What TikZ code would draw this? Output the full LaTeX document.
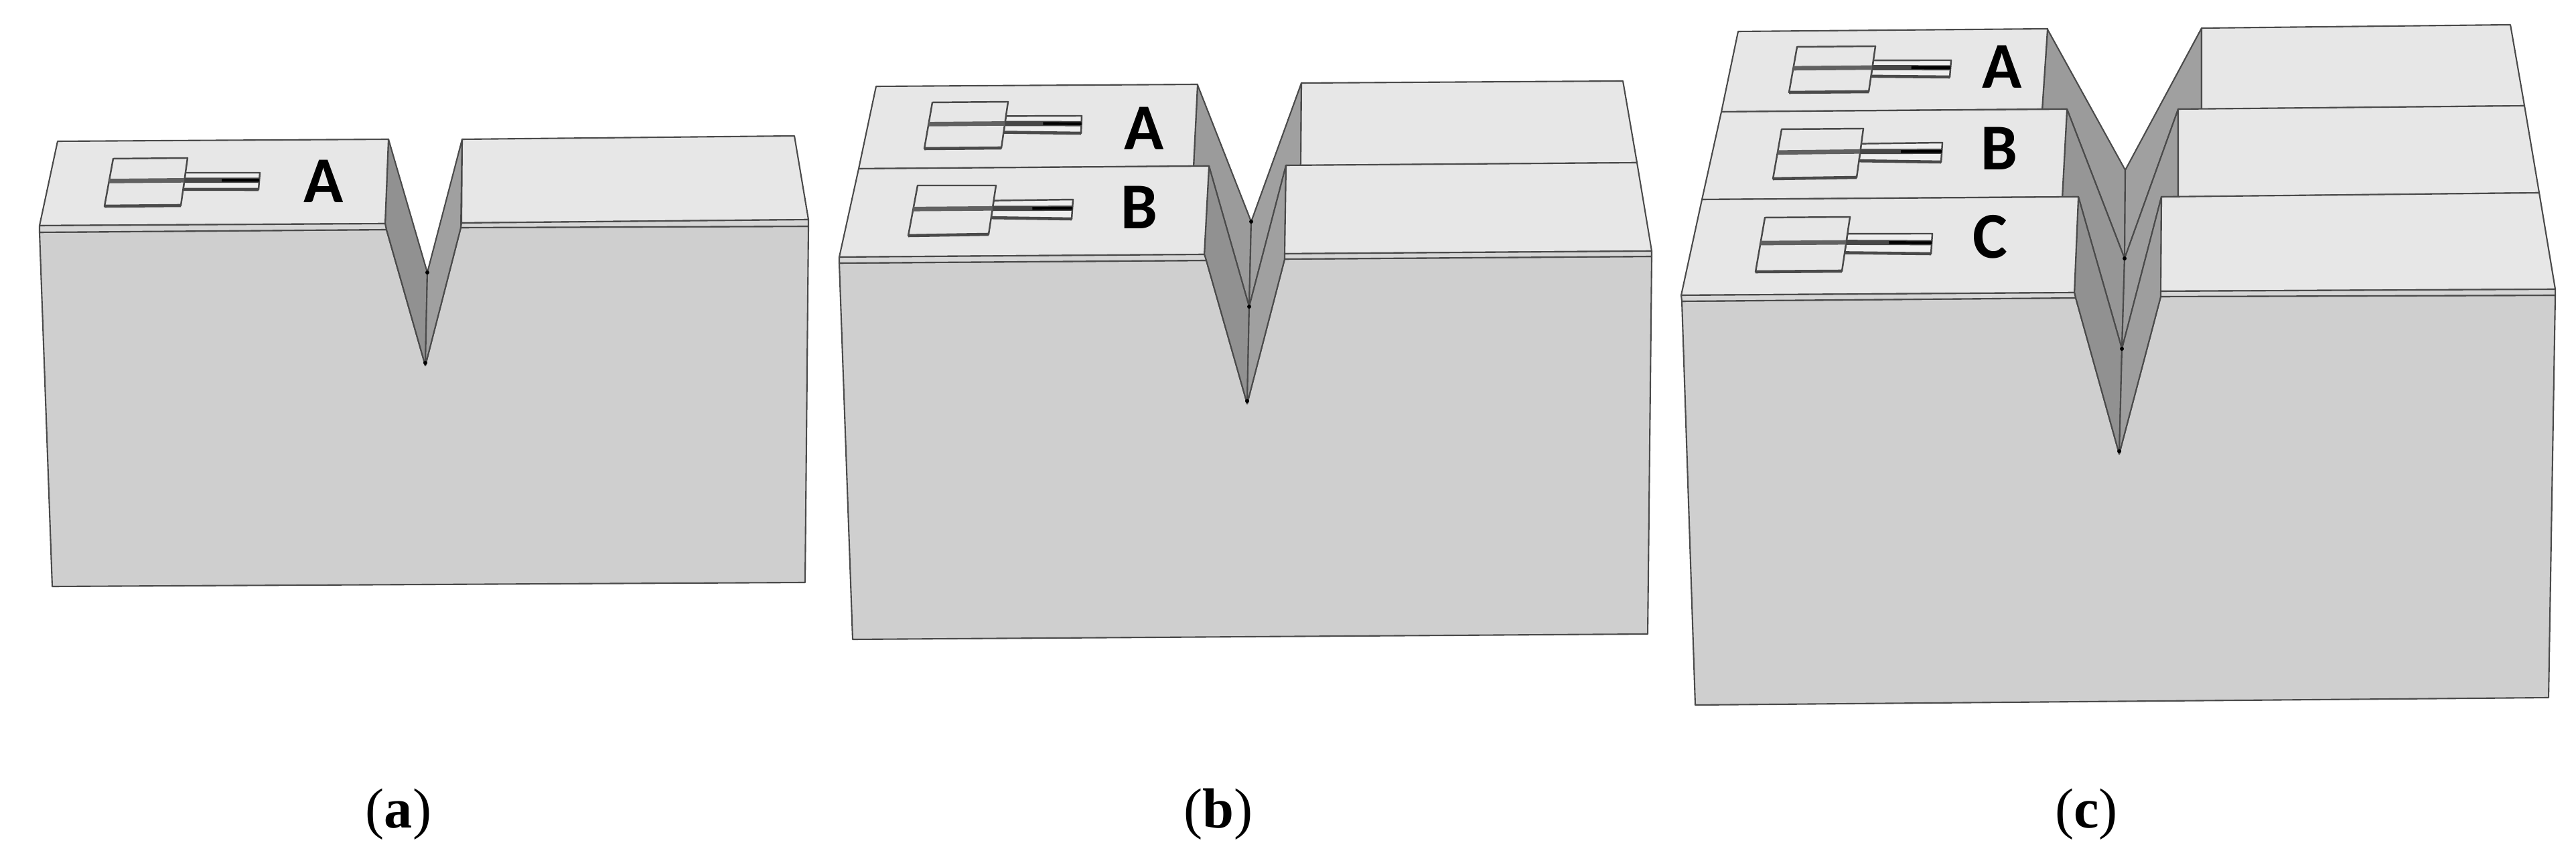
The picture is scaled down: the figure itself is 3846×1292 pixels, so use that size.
\documentclass[tikz,border=0pt]{standalone}
\usepackage{fontspec}
\setmainfont{Liberation Serif}
\newfontfamily\labelfont{Carlito}
\usetikzlibrary{calc}
\definecolor{topc}{HTML}{E7E7E7}
\definecolor{stripc}{HTML}{D6D6D6}
\definecolor{frontc}{HTML}{CFCFCF}
\definecolor{edgec}{HTML}{4A4A4A}
\definecolor{nla}{HTML}{9B9B9B}
\definecolor{nlb}{HTML}{969696}
\definecolor{nlc}{HTML}{919191}
\definecolor{nra}{HTML}{A0A0A0}
\definecolor{nrb}{HTML}{9E9E9E}
\definecolor{feedc}{HTML}{EEEEEE}
\tikzset{
  face/.style={draw=edgec,line width=0.6pt,line join=round},
  topface/.style={face,fill=topc},
  stripface/.style={face,fill=stripc},
  frontface/.style={face,fill=frontc},
  letter/.style={anchor=base,inner sep=0pt,font=\labelfont\bfseries\fontsize{27.8}{30}\selectfont,text=black},
  caption/.style={anchor=base,inner sep=0pt,font=\fontsize{24}{28}\selectfont,text=black},
  vdot/.style={fill=black},
}
% corners: TL, TR, BR, BL of the patch; upper and lower end of the feed
\newcommand{\antenna}[6]{%
  \coordinate (tl) at #1; \coordinate (tr) at #2; \coordinate (br) at #3;
  \coordinate (bl) at #4; \coordinate (fa) at #5; \coordinate (fb) at #6;
  \coordinate (pl) at ($(tl)!0.47!(bl)$);
  \coordinate (pr) at ($(tr)!0.47!(br)$);
  \coordinate (fu) at ($(tr)!0.31!(br)$);
  \coordinate (fd) at ($(tr)!0.66!(br)$);
  \coordinate (fm) at ($(fa)!0.45!(fb)$);
  \draw[face,fill=feedc,line width=0.7pt] (fu) -- (fa) -- (fb) -- (fd) -- cycle;
  \draw[topface,line width=0.7pt] (tl) -- (tr) -- (br) -- (bl) -- cycle;
  \draw[edgec,line width=1.3pt] (bl) -- (br);
  \draw[edgec,line width=1.3pt] (fd) -- (fb);
  \draw[black!62,line width=1.9pt] (pl) -- (pr);
  \draw[black!72,line width=2.2pt] (pr) -- (fm);
  \draw[black,line width=1.2pt] ($(pr)!0.5!(fm)$) -- (fm);
}
\begin{document}
\begin{tikzpicture}[x=0.01cm,y=-0.01cm]
\useasboundingbox (0,0) rectangle (3846,1292);
% ---------- panel (a)
\draw[frontface] (59,347) -- (577,343) -- (635,546) -- (688,340) -- (1207,338) -- (1202,870) -- (78,876) -- cycle;
\draw[face,fill=nlc] (580,208) -- (638,407) -- (635,546) -- (577,343) -- (575,334) -- cycle;
\draw[face,fill=nra] (690,208) -- (638,407) -- (635,546) -- (688,340) -- cycle;
\draw[topface] (86,211) -- (580,208) -- (575,334) -- (59,337) -- cycle;
\draw[stripface] (59,337) -- (575,334) -- (577,343) -- (59,347) -- cycle;
\draw[topface] (690,208) -- (1186,203) -- (1207,328) -- (689,333) -- cycle;
\draw[stripface] (689,333) -- (1207,328) -- (1207,338) -- (688,340) -- cycle;
\fill[vdot] (638,407) circle (3);
\fill[vdot] (635,542) circle (3);
\antenna{(169,237)}{(280,236)}{(270,307)}{(156,308)}{(388,258)}{(386,283)}
\node[letter] (a1) at (483,303) {A};
% ---------- panel (b)
\draw[frontface] (1253,393) -- (1801,389) -- (1862,603) -- (1918,387) -- (2466,383) -- (2460,947) -- (1273,955) -- cycle;
\draw[face,fill=nla] (1788,127) -- (1868,331) -- (1865,458) -- (1805,248) -- (1782,248) -- cycle;
\draw[face,fill=nra] (1943,124) -- (1868,331) -- (1865,458) -- (1920,247) -- (1942,247) -- cycle;
\draw[face,fill=nlc] (1805,248) -- (1865,458) -- (1862,603) -- (1801,389) -- (1798,380) -- cycle;
\draw[face,fill=nra] (1920,247) -- (1865,458) -- (1862,603) -- (1918,387) -- cycle;
\draw[topface] (1308,129) -- (1788,126) -- (1782,248) -- (1282,252) -- cycle;
\draw[topface] (1282,252) -- (1805,248) -- (1798,380) -- (1253,384) -- cycle;
\draw[stripface] (1253,384) -- (1798,380) -- (1801,389) -- (1253,393) -- cycle;
\draw[topface] (1943,124) -- (2423,121) -- (2444,243) -- (1942,247) -- cycle;
\draw[topface] (1920,247) -- (2444,243) -- (2466,375) -- (1918,379) -- cycle;
\draw[stripface] (1918,379) -- (2466,375) -- (2466,383) -- (1918,387) -- cycle;
\fill[vdot] (1868,331) circle (3);
\fill[vdot] (1865,458) circle (3);
\fill[vdot] (1862,599) circle (3);
\antenna{(1392,153)}{(1505,152)}{(1495,221)}{(1380,222)}{(1615,173)}{(1614,199)}
\antenna{(1370,277)}{(1487,277)}{(1476,350)}{(1356,352)}{(1602,298)}{(1600,327)}
\node[letter] (b1) at (1708,224) {A};
\node[letter] (b2) at (1701,342) {B};
% ---------- panel (c)
\draw[frontface] (2511,450) -- (3099,445) -- (3164,678) -- (3226,443) -- (3815,441) -- (3805,1042) -- (2531,1053) -- cycle;
\draw[face,fill=nla] (3057,44) -- (3173,254) -- (3172,386) -- (3086,163) -- (3049,163) -- cycle;
\draw[face,fill=nra] (3287,42) -- (3173,254) -- (3172,386) -- (3252,163) -- (3287,163) -- cycle;
\draw[face,fill=nlb] (3086,163) -- (3172,386) -- (3168,521) -- (3103,294) -- (3079,294) -- cycle;
\draw[face,fill=nrb] (3252,163) -- (3172,386) -- (3168,521) -- (3227,294) -- (3252,294) -- cycle;
\draw[face,fill=nlc] (3103,294) -- (3168,521) -- (3164,678) -- (3099,445) -- (3097,437) -- cycle;
\draw[face,fill=nrb] (3227,294) -- (3168,521) -- (3164,678) -- (3226,443) -- cycle;
\draw[topface] (2595,47) -- (3057,43) -- (3049,163) -- (2570,167) -- cycle;
\draw[topface] (2570,167) -- (3086,163) -- (3079,294) -- (2541,298) -- cycle;
\draw[topface] (2541,298) -- (3103,294) -- (3097,437) -- (2510,441) -- cycle;
\draw[stripface] (2510,441) -- (3097,437) -- (3099,445) -- (2511,450) -- cycle;
\draw[topface] (3287,42) -- (3748,37) -- (3769,158) -- (3287,163) -- cycle;
\draw[topface] (3252,163) -- (3769,158) -- (3791,288) -- (3252,294) -- cycle;
\draw[topface] (3227,294) -- (3791,288) -- (3815,432) -- (3226,435) -- cycle;
\draw[stripface] (3226,435) -- (3815,432) -- (3815,441) -- (3226,443) -- cycle;
\fill[vdot] (3172,386) circle (3);
\fill[vdot] (3168,521) circle (3);
\fill[vdot] (3164,674) circle (3);
\antenna{(2683,70)}{(2800,69)}{(2790,137)}{(2671,138)}{(2913,90)}{(2911,115)}
\antenna{(2660,193)}{(2782,192)}{(2772,265)}{(2647,267)}{(2900,213)}{(2898,242)}
\antenna{(2635,325)}{(2762,324)}{(2750,405)}{(2621,406)}{(2885,349)}{(2883,379)}
\node[letter] (c1) at (2989,132) {A};
\node[letter] (c2) at (2985,254) {B};
\node[letter] (c3) at (2971,386) {C};
% ---------- captions
\node[caption] (capa) at (595,1236) {(\textbf{a})};
\node[caption] (capb) at (1819,1236) {(\textbf{b})};
\node[caption] (capc) at (3115,1236) {(\textbf{c})};
\end{tikzpicture}
\end{document}
